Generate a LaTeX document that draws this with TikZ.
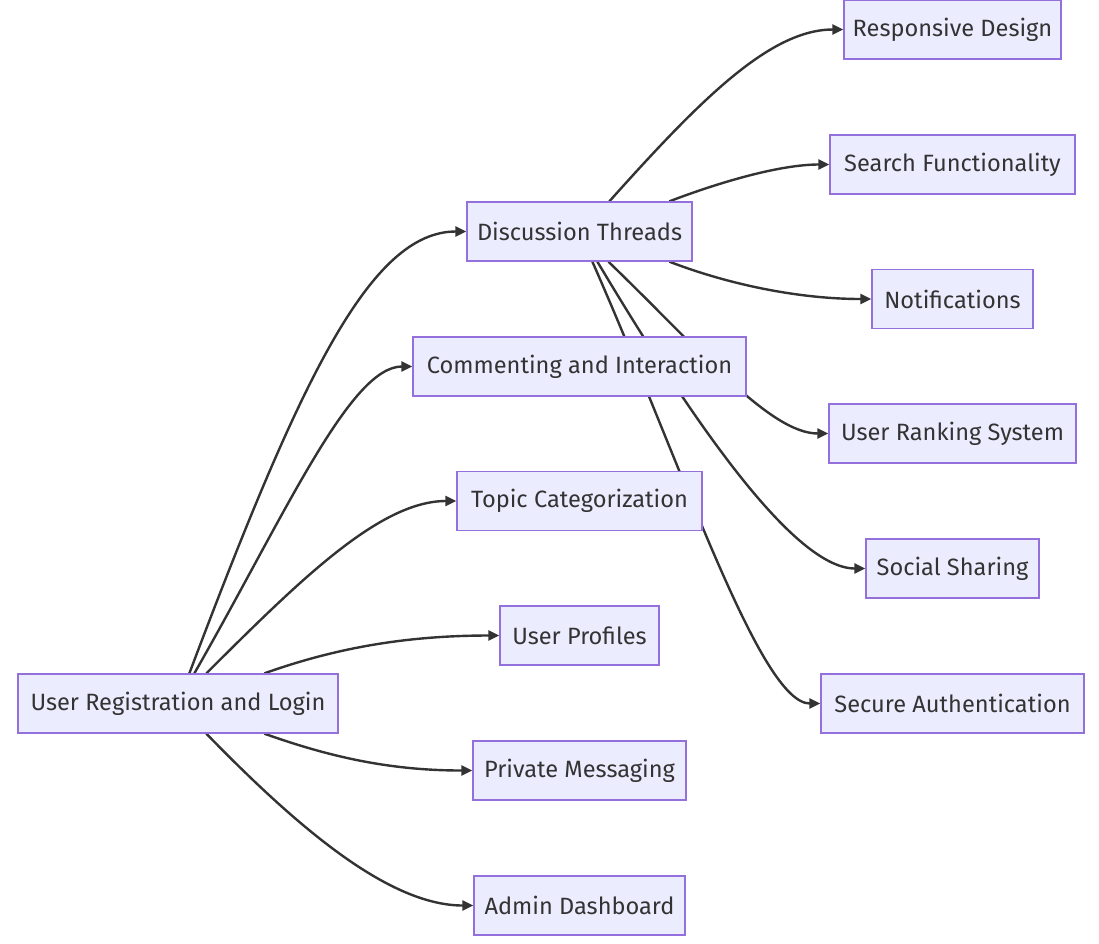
\documentclass[tikz,border=0pt]{standalone}
\usepackage{fontspec}
\setmainfont{Fira Sans}
\usetikzlibrary{calc,backgrounds,arrows.meta}
\definecolor{nodefill}{HTML}{ECECFF}
\definecolor{nodeline}{HTML}{9370DB}
\definecolor{edgecol}{HTML}{333333}
\begin{document}
\begin{tikzpicture}[x=1pt,y=-1pt,
  box/.style={draw=nodeline, fill=nodefill, line width=1.3pt, rectangle, inner sep=0pt,
    minimum height=59pt, minimum width=#1, text=edgecol,
    font=\fontsize{23.6}{28}\selectfont},
  link/.style={draw=edgecol, line width=2.4pt, -{Triangle[length=11pt,width=10pt]}}]
\useasboundingbox (0,0) rectangle (1099,943);
% left column
\node[box=320pt] (U) at (178,703.5) {User Registration and Login};
% middle column
\node[box=225pt] (D) at (579.5,231.5) {Discussion Threads};
\node[box=333pt] (C) at (579.5,366.5) {Commenting and Interaction};
\node[box=245pt] (T) at (579.5,501) {Topic Categorization};
\node[box=159pt] (P) at (579.5,635.5) {User Profiles};
\node[box=213pt] (M) at (579.5,770.5) {Private Messaging};
\node[box=211pt] (A) at (579.5,905.5) {Admin Dashboard};
% right column
\node[box=217pt] (R) at (952.5,29.5) {Responsive Design};
\node[box=245pt] (S) at (952.5,164.5) {Search Functionality};
\node[box=161pt] (N) at (952.5,299) {Notifications};
\node[box=247pt] (K) at (952.5,433.5) {User Ranking System};
\node[box=173pt] (H) at (952.5,568.5) {Social Sharing};
\node[box=263pt] (Z) at (952.5,703.5) {Secure Authentication};
\begin{pgfonlayer}{background}
% from User Registration and Login
\draw[link] ($(U.north west)+(172,0)$) .. controls (300,380) and (370,231.5) .. (D.west);
\draw[link] ($(U.north west)+(177,0)$) .. controls (285,515) and (350,366.5) .. (C.west);
\draw[link] ($(U.north west)+(189,0)$) .. controls (300,580) and (380,501) .. (T.west);
\draw[link] ($(U.north west)+(247,0)$) .. controls (330,650) and (400,635.5) .. (P.west);
\draw[link] ($(U.south west)+(247,0)$) .. controls (330,757) and (390,770.5) .. (M.west);
\draw[link] ($(U.south west)+(189,0)$) .. controls (300,830) and (390,905.5) .. (A.west);
% from Discussion Threads
\draw[link] ($(D.north west)+(143,0)$) .. controls (700,100) and (770,29.5) .. (R.west);
\draw[link] ($(D.north west)+(203,0)$) .. controls (720,182) and (780,164.5) .. (S.west);
\draw[link] ($(D.south west)+(203,0)$) .. controls (730,285) and (800,299) .. (N.west);
\draw[link] ($(D.south west)+(142,0)$) .. controls (700,350) and (770,433.5) .. (K.west);
\draw[link] ($(D.south west)+(131,0)$) .. controls (680,400) and (790,568.5) .. (H.west);
\draw[link] ($(D.south west)+(126,0)$) .. controls (682,465) and (760,703.5) .. (Z.west);
\end{pgfonlayer}
\end{tikzpicture}
\end{document}
